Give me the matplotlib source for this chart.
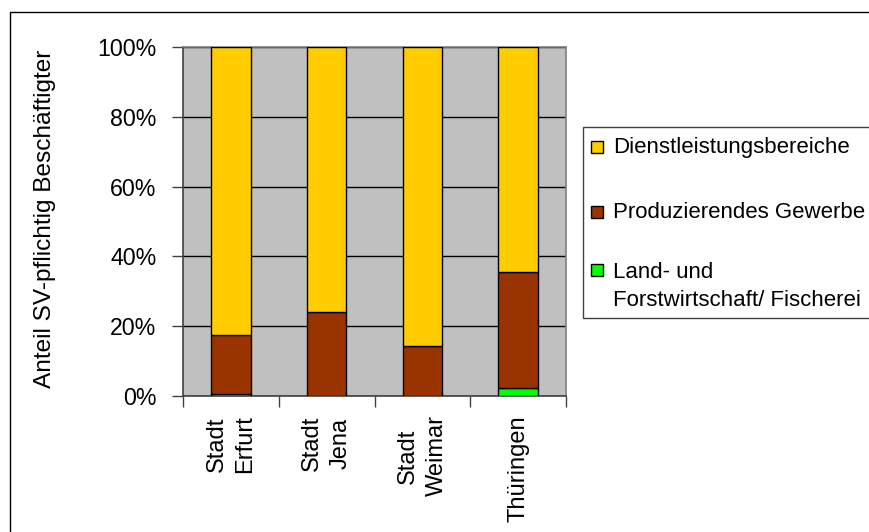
import matplotlib
matplotlib.use("Agg")
import matplotlib.pyplot as plt
from matplotlib.patches import Rectangle
from matplotlib.ticker import FuncFormatter, FixedLocator
import numpy as np

plt.rcParams['font.family'] = ['Liberation Sans', 'DejaVu Sans']

categories = ["Stadt\nErfurt", "Stadt\nJena", "Stadt\nWeimar", "Thüringen"]
series_names = ["Dienstleistungsbereiche", "Produzierendes Gewerbe",
                "Land- und\nForstwirtschaft/ Fischerei"]
land = [0.5, 0.0, 0.0, 2.3]          # % Land- und Forstwirtschaft/ Fischerei
prod = [16.9, 24.0, 14.2, 33.1]      # % Produzierendes Gewerbe
dienst = [100 - a - b for a, b in zip(land, prod)]  # % Dienstleistungsbereiche
yticks = [0, 20, 40, 60, 80, 100]

col_dienst = "#FFCC00"
col_prod = "#993300"
col_land = "#00FF00"

W, H = 869, 532
fig = plt.figure(figsize=(W / 100, H / 100), dpi=100)

def fx(px):
    return px / W

def fy(py):
    return 1 - py / H

# outer chart frame
fig.patches.append(Rectangle((fx(10), fy(H + 20)), 1.2, fy(12) - fy(H + 20),
                             transform=fig.transFigure, fill=False,
                             edgecolor="black", linewidth=1.0))

ax = fig.add_axes([fx(183), fy(396), fx(566) - fx(183), fy(47) - fy(396)])
ax.set_facecolor("#C0C0C0")

x = np.arange(len(categories))
bw = 0.41
ld = np.array(land) / 100
pd_ = np.array(prod) / 100
dd = np.array(dienst) / 100
ax.bar(x, ld, bw, color=col_land, edgecolor="black", linewidth=1.0, zorder=3)
ax.bar(x, pd_, bw, bottom=ld, color=col_prod, edgecolor="black", linewidth=1.0, zorder=3)
ax.bar(x, dd, bw, bottom=ld + pd_, color=col_dienst, edgecolor="black", linewidth=1.0, zorder=3)

ax.set_xlim(-0.5, len(categories) - 0.5)
ax.set_ylim(0, 1)
ax.set_yticks([t / 100 for t in yticks])
ax.yaxis.set_major_formatter(FuncFormatter(lambda v, p: f"{v*100:.0f}%"))
ax.yaxis.grid(True, color="black", linewidth=1.0, zorder=1)
ax.set_axisbelow(True)

ax.set_xticks(x)
ax.set_xticklabels(categories, rotation=90, fontsize=17, linespacing=1.4,
                   multialignment="center")
ax.tick_params(axis="x", which="major", length=0, pad=14)
ax.xaxis.set_minor_locator(FixedLocator(np.arange(len(categories) + 1) - 0.5))
ax.tick_params(axis="x", which="minor", length=8, width=1, direction="out",
               color="#404040")
ax.tick_params(axis="y", length=8, width=1, direction="out", color="#404040",
               labelsize=16.7, pad=11)

for s in ["left", "bottom"]:
    ax.spines[s].set_color("#404040")
    ax.spines[s].set_linewidth(1.2)
for s in ["top", "right"]:
    ax.spines[s].set_color("#808080")
    ax.spines[s].set_linewidth(1.2)

fig.text(fx(45), fy(219), "Anteil SV-pflichtig Beschäftigter", rotation=90,
         ha="center", va="center", fontsize=17.6)

# legend
fig.patches.append(Rectangle((fx(583), fy(318)), 0.5, fy(127) - fy(318),
                             transform=fig.transFigure, facecolor="white",
                             edgecolor="#404040", linewidth=1.0))
leg_colors = [col_dienst, col_prod, col_land]
leg_centers = [147, 212, 270]
for name, c, yc in zip(series_names, leg_colors, leg_centers):
    fig.patches.append(Rectangle((fx(591), fy(yc + 6)), fx(12), fy(0) - fy(12),
                                 transform=fig.transFigure, facecolor=c,
                                 edgecolor="black", linewidth=1.0))
    nlines = name.count("\n") + 1
    ytxt = yc + (nlines - 1) * 33 / 2
    fig.text(fx(613), fy(ytxt), name, ha="left", va="center", fontsize=16,
             linespacing=1.45)

fig.savefig("out.png", dpi=100)
